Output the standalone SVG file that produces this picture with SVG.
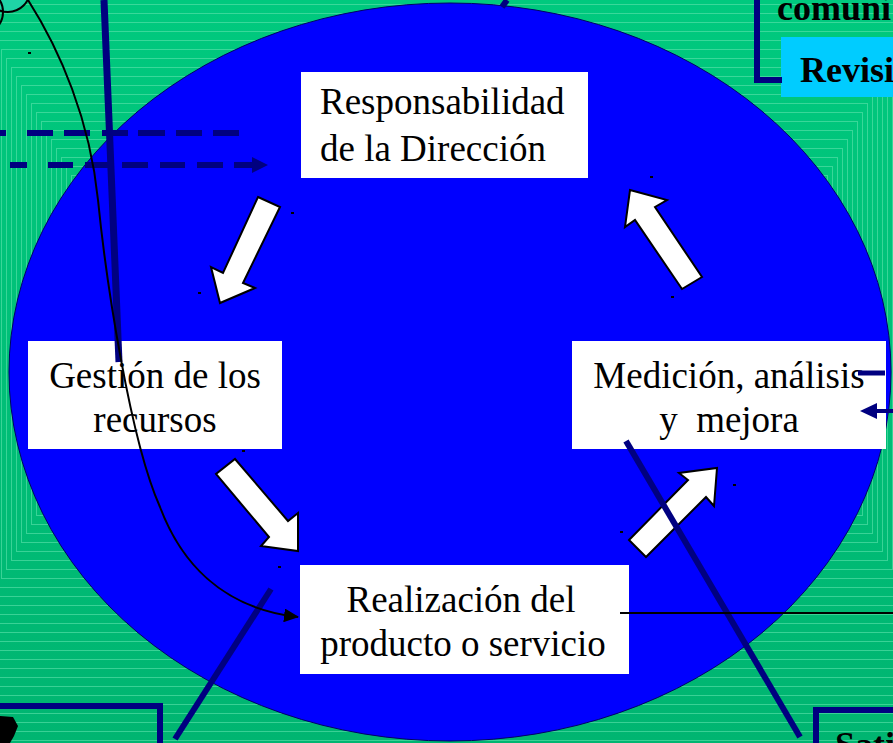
<svg xmlns="http://www.w3.org/2000/svg" width="893" height="743" viewBox="0 0 893 743">
<style>
.box{fill:#ffffff}
.t{font-family:"Liberation Serif","Times New Roman",serif;font-size:37px;fill:#000000}
.tb{font-family:"Liberation Serif","Times New Roman",serif;font-size:36px;font-weight:bold;fill:#000000}
.warrow{fill:#ffffff;stroke:#000000;stroke-width:2;stroke-linejoin:miter}
.navy{stroke:#000080;fill:none;stroke-linecap:butt}
.dot{fill:#000000}
</style>
<defs>
<linearGradient id="bg" x1="0" y1="0" x2="0" y2="1">
<stop offset="0" stop-color="#00C97E"/>
<stop offset="1" stop-color="#00B571"/>
</linearGradient>
<marker id="ah" markerUnits="userSpaceOnUse" markerWidth="16" markerHeight="14" refX="14" refY="7" orient="auto">
<path d="M0 0 L15 7 L0 14 Z" fill="#000000"/>
</marker>
</defs>
<g id="background">
<rect x="0" y="0" width="893" height="743" fill="url(#bg)"/>
<path fill="none" stroke="#5FE2AE" stroke-opacity="0.6" stroke-width="1" shape-rendering="crispEdges" d="M-94 -122h1086v871h-1086z M-89 -113h1076v853h-1076z M-84 -104h1066v835h-1066z M-79 -95h1056v817h-1056z M-74 -86h1046v799h-1046z M-69 -77h1036v781h-1036z M-64 -68h1026v763h-1026z M-59 -59h1016v745h-1016z M-54 -50h1006v727h-1006z M-49 -41h996v709h-996z M-44 -32h986v691h-986z M-39 -23h976v673h-976z M-34 -14h966v655h-966z M-29 -5h956v637h-956z M-24 4h946v619h-946z M-19 13h936v601h-936z M-14 22h926v583h-926z M-9 31h916v565h-916z M-4 40h906v547h-906z M1 49h896v529h-896z M6 58h886v511h-886z M11 67h876v493h-876z M16 76h866v475h-866z M21 85h856v457h-856z M26 94h846v439h-846z M31 103h836v421h-836z M36 112h826v403h-826z M41 121h816v385h-816z M46 130h806v367h-806z M51 139h796v349h-796z M56 148h786v331h-786z M61 157h776v313h-776z M66 166h766v295h-766z M71 175h756v277h-756z"/>
</g>
<ellipse id="cycle" cx="450" cy="372" rx="441" ry="369" fill="#0000FF" stroke="#000066" stroke-width="1"/>
<g id="top-left-shape">
<circle cx="8" cy="-10" r="22" fill="#1FD3A6" stroke="#000000" stroke-width="2"/>
<circle cx="-20" cy="12" r="23" fill="none" stroke="#000000" stroke-width="2"/>
</g>
<g id="n-responsabilidad">
<rect class="box" x="301" y="72" width="287" height="106"/>
<text class="t" x="320" y="114">Responsabilidad</text>
<text class="t" x="320" y="161">de la Dirección</text>
</g>
<g id="n-gestion">
<rect class="box" x="28" y="341" width="254" height="108"/>
<text class="t" x="155" y="388" text-anchor="middle">Gestión de los</text>
<text class="t" x="155" y="432" text-anchor="middle">recursos</text>
</g>
<g id="n-medicion">
<rect class="box" x="572" y="341" width="314" height="108"/>
<text class="t" x="729" y="388" text-anchor="middle">Medición, análisis</text>
<text class="t" x="729" y="432" text-anchor="middle" xml:space="preserve">y  mejora</text>
</g>
<g id="n-realizacion">
<rect class="box" x="300" y="565" width="329" height="109"/>
<text class="t" x="461" y="612" text-anchor="middle">Realización del</text>
<text class="t" x="463" y="656" text-anchor="middle">producto o servicio</text>
</g>
<g id="n-revision">
<rect x="781" y="37" width="112" height="60" fill="#00CCFF"/>
<text class="tb" x="800" y="82">Revisi</text>
</g>
<g id="n-comunicacion">
<text class="tb" x="777" y="20">comuni</text>
</g>
<g id="n-satisfaccion">
<text class="tb" x="835" y="757">Sati</text>
</g>
<g id="cycle-arrows">
<polygon class="warrow" points="258,197 280,207 243,283 255,288 220,303 211,267 223,273"/>
<polygon class="warrow" points="235,459 288,521 298,513 298,551 261,546 269,537 216,474"/>
<polygon class="warrow" points="629,540 688,480 679,473 717,468 714,506 706,497 646,557"/>
<polygon class="warrow" points="630,190 667,200 655,207 702,277 682,289 635,220 625,227"/>
</g>
<g id="connectors">
<line class="navy" x1="104" y1="0" x2="119" y2="362" stroke-width="7"/>
<path class="navy" stroke-width="6" d="M0 133H6 M27 133H53 M64 133H90 M102 133H128 M138 133H165 M176 133H202 M213 133H239"/>
<path class="navy" stroke-width="6" d="M10 165H27 M48 165H73 M85 165H110 M122 165H148 M160 165H185 M197 165H223 M234 165H254"/>
<polygon points="252,157 268,165 252,173" fill="#000080"/>
<line class="navy" x1="271" y1="589" x2="175" y2="739" stroke-width="6"/>
<line class="navy" x1="626" y1="441" x2="800" y2="737" stroke-width="6"/>
<line class="navy" x1="858" y1="373" x2="885" y2="373" stroke-width="5"/>
<line class="navy" x1="874" y1="411" x2="893" y2="411" stroke-width="4"/>
<polygon points="860,411 877,403 877,419" fill="#000080"/>
<line class="navy" x1="507" y1="0" x2="502" y2="7" stroke-width="6"/>
<path class="navy" stroke-width="6" d="M757 0V80H782"/>
<path class="navy" stroke-width="6" d="M0 706H160V743"/>
<path class="navy" stroke-width="6" d="M816 743V710H893"/>
<line x1="620" y1="613" x2="893" y2="613" stroke="#000000" stroke-width="2"/>
<path d="M28 0 C60 50 90 120 98 200 C106 280 130 440 160 507 C180 560 220 608 298 617" fill="none" stroke="#000000" stroke-width="2" marker-end="url(#ah)"/>
</g>
<g id="misc">
<polygon points="0,716 13,717 18,726 14,736 10,743 0,743" fill="#000000"/>
<rect class="dot" x="28" y="52" width="3" height="2"/>
<rect class="dot" x="291" y="212" width="3" height="2"/>
<rect class="dot" x="198" y="292" width="3" height="2"/>
<rect class="dot" x="650" y="176" width="3" height="2"/>
<rect class="dot" x="671" y="296" width="3" height="2"/>
<rect class="dot" x="733" y="484" width="3" height="2"/>
<rect class="dot" x="620" y="531" width="3" height="2"/>
<rect class="dot" x="242" y="450" width="3" height="2"/>
<rect class="dot" x="278" y="566" width="3" height="2"/>
</g>
</svg>
